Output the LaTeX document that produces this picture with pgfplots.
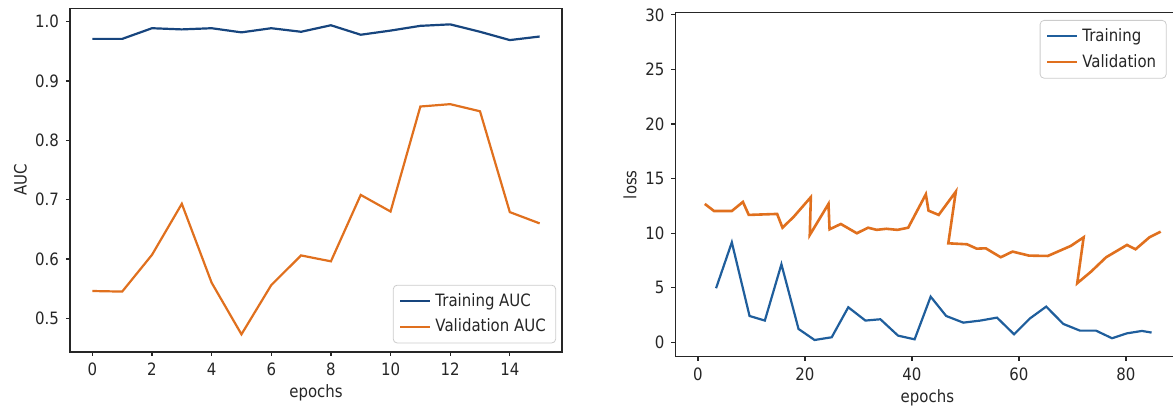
\documentclass[border=0pt]{standalone}
\usepackage{fontspec}
\setmainfont{DejaVu Sans}[FakeStretch=0.88]
\usepackage{pgfplots}
\pgfplotsset{compat=1.18}
\definecolor{cnavy}{HTML}{17457E}
\definecolor{cblue}{HTML}{1F5E9C}
\definecolor{corange}{HTML}{E0701E}
\definecolor{ctext}{HTML}{262626}
\pgfplotsset{
 mpl/.style={
  scale only axis,
  axis line style={black!85, line width=0.6pt},
  tick align=outside, tick pos=left,
  major tick length=2pt,
  every tick/.style={black!85, line width=0.6pt},
  tick label style={font=\fontsize{8.5}{10}\selectfont, text=ctext},
  /pgf/number format/assume math mode=true,
  legend style={draw=black!20, rounded corners=2pt, font=\fontsize{8.5}{10}\selectfont, text=ctext, inner xsep=3pt, inner ysep=2pt, row sep=1pt},
  legend cell align=left,
  legend image code/.code={\draw[#1, line width=1.1pt] (0pt,0pt) -- (15pt,0pt);},
 }
}
\pgfplotstableread{
x y
0 0.971
1 0.971
2 0.989
3 0.987
4 0.989
5 0.982
6 0.989
7 0.983
8 0.994
9 0.978
10 0.985
11 0.993
12 0.9955
13 0.983
14 0.969
15 0.975
}\trainauc
\pgfplotstableread{
x y
0 0.546
1 0.545
2 0.607
3 0.693
4 0.560
5 0.473
6 0.556
7 0.606
8 0.596
9 0.708
10 0.680
11 0.857
12 0.861
13 0.849
14 0.679
15 0.660
}\valauc
\pgfplotstableread{
x y
3.38 4.95
6.33 9.16
9.64 2.41
12.5 1.99
15.6 7.15
18.8 1.22
21.8 0.21
25.0 0.46
28.1 3.21
31.3 1.99
34.1 2.11
37.4 0.61
40.5 0.27
43.5 4.18
46.4 2.41
49.6 1.80
52.8 1.99
55.9 2.26
59.1 0.73
62.1 2.20
65.1 3.27
68.3 1.68
71.4 1.07
74.4 1.07
77.4 0.37
80.2 0.82
83.0 1.04
84.8 0.89
}\trainloss
\pgfplotstableread{
x y
1.27 12.68
3.0 12.03
6.33 12.03
8.4 12.86
9.5 11.67
14.8 11.76
15.8 10.5
17.9 11.5
21.1 13.3
20.9 9.83
24.4 12.68
24.6 10.35
26.7 10.84
29.7 9.99
31.8 10.5
33.4 10.3
35.2 10.4
37.3 10.3
39.3 10.5
42.6 13.56
43.1 12.06
45.0 11.67
48.2 13.8
46.8 9.07
50.3 8.98
52.1 8.58
53.8 8.61
56.6 7.79
58.8 8.31
61.9 7.94
65.4 7.91
69.7 8.83
72.1 9.62
70.9 5.41
73.5 6.48
76.3 7.79
80.2 8.92
81.8 8.52
84.4 9.62
86.5 10.14
}\valloss
\begin{document}
\begin{tikzpicture}
\begin{axis}[mpl,
  at={(35pt,29pt)}, anchor=south west,
  width=246pt, height=171.85pt,
  xmin=-0.75, xmax=15.75, ymin=0.4432, ymax=1.0226,
  xtick={0,2,4,6,8,10,12,14},
  ytick={0.5,0.6,0.7,0.8,0.9,1.0},
  yticklabel style={/pgf/number format/.cd, fixed, fixed zerofill, precision=1},
  xlabel={epochs}, ylabel={AUC},
  every axis x label/.style={at={(axis description cs:0.5,-0.1193)}, anchor=center, font=\fontsize{8.5}{10}\selectfont, text=ctext},
  every axis y label/.style={at={(axis description cs:-0.1006,0.5)}, rotate=90, anchor=center, font=\fontsize{8.5}{10}\selectfont, text=ctext},
  legend style={at={(0.988,0.025)}, anchor=south east},
]
\addplot[cnavy, line width=1.1pt] table {\trainauc};
\addlegendentry{Training AUC}
\addplot[corange, line width=1.1pt] table {\valauc};
\addlegendentry{Validation AUC}
\end{axis}
\begin{axis}[mpl,
  at={(337.7pt,26.65pt)}, anchor=south west,
  width=252pt, height=172pt,
  xmin=-4.22, xmax=90, ymin=-1.32, ymax=30.2,
  xtick={0,20,40,60,80},
  ytick={0,5,10,15,20,25,30},
  xlabel={epochs}, ylabel={loss},
  every axis x label/.style={at={(axis description cs:0.5,-0.12)}, anchor=center, font=\fontsize{8.5}{10}\selectfont, text=ctext},
  every axis y label/.style={at={(axis description cs:-0.0901,0.5)}, rotate=90, anchor=center, font=\fontsize{8.5}{10}\selectfont, text=ctext},
  legend style={at={(0.9746,0.9788)}, anchor=north east},
]
\addplot[cblue, line width=1.1pt] table {\trainloss};
\addlegendentry{Training}
\addplot[corange, line width=1.3pt] table {\valloss};
\addlegendentry{Validation}
\end{axis}
\pgfresetboundingbox
\useasboundingbox (0,0) rectangle (586.5pt,205pt);
\end{tikzpicture}
\end{document}
